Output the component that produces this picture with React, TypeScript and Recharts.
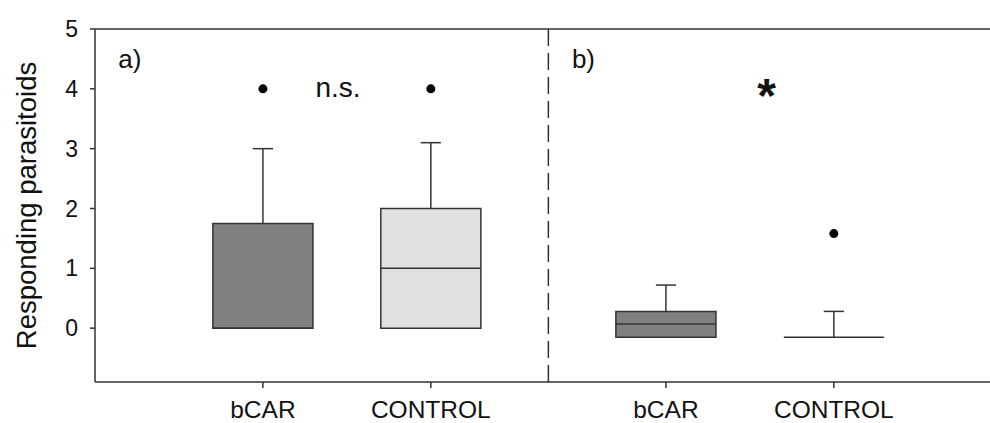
import React from 'react';
import {
  ComposedChart,
  XAxis,
  YAxis,
  Scatter,
  ReferenceArea,
  ReferenceLine,
  ReferenceDot,
} from 'recharts';

// ---- data ----
const categories = ['bCAR', 'CONTROL', 'bCAR', 'CONTROL'];
const positions = [1, 2, 3.4, 4.4];
const lowerQuartile = [0, 0, -0.15, -0.15];
const medians = [0, 1, 0.07, -0.15];
const upperQuartile = [1.75, 2, 0.28, -0.15];
const whiskerTop = [3, 3.1, 0.72, 0.28];
const outlierValues: (number | null)[] = [4, 4, null, 1.58];
const boxFills = ['#808080', '#e0e0e0', '#808080', '#e0e0e0'];
const yTicks = [0, 1, 2, 3, 4, 5];
const panelDivider = 2.7;
const annotationTexts = ['a)', 'n.s.', 'b)', '*'];
const annotationX = [0.208, 1.447, 2.909, 4.0];
const annotationY = [4.5, 4.03, 4.5, 3.89];
const annotationSizes = [26, 28, 26, 48];

const outlierData = positions
  .map((p, i) => (outlierValues[i] != null ? { x: p, y: outlierValues[i] } : null))
  .filter((d) => d !== null) as { x: number; y: number }[];

const FONT = '"Liberation Sans", Arial, sans-serif';
const AXIS = '#333';
const BOX_HALF = 0.298;
const CAP_HALF = 0.06;

const YLabel = (props: any) => {
  const vb = props.viewBox || {};
  const cx = (vb.x ?? 0) + 26;
  const cy = (vb.y ?? 0) + (vb.height ?? 0) / 2;
  return (
    <text
      x={cx}
      y={cy}
      transform={`rotate(-90, ${cx}, ${cy})`}
      textAnchor="middle"
      dominantBaseline="central"
      fontFamily={FONT}
      fontSize={27.5}
      fill="#111"
    >
      Responding parasitoids
    </text>
  );
};

export default function App() {
  return (
    <div style={{ position: 'absolute', left: 0, top: 0, background: '#fff' }}>
      <ComposedChart
        width={990}
        height={423}
        margin={{ top: 29, right: 0, bottom: 0, left: 0 }}
        style={{ fontFamily: FONT }}
      >
        <XAxis
          type="number"
          dataKey="x"
          domain={[0, 5.33]}
          ticks={positions}
          interval={0}
          allowDataOverflow
          tickFormatter={(v: number) => categories[positions.indexOf(v)]}
          height={41}
          tickSize={6}
          tickMargin={13}
          stroke={AXIS}
          strokeWidth={1.5}
          tick={{ fontSize: 24.5, fill: '#111', fontFamily: FONT }}
        />
        <YAxis
          type="number"
          domain={[-0.9, 5]}
          ticks={yTicks}
          interval={0}
          allowDataOverflow
          width={95}
          tickSize={5}
          tickMargin={12}
          stroke={AXIS}
          strokeWidth={1.5}
          tick={{ fontSize: 23, fill: '#111', fontFamily: FONT }}
          label={{ content: YLabel }}
        />
        <ReferenceLine y={5} stroke={AXIS} strokeWidth={1.5} ifOverflow="visible" />
        <ReferenceLine
          x={panelDivider}
          stroke={AXIS}
          strokeWidth={1.5}
          strokeDasharray="17 7"
          ifOverflow="visible"
        />
        {positions.map((p, i) => (
          <ReferenceLine
            key={`wh-${i}`}
            segment={[
              { x: p, y: upperQuartile[i] },
              { x: p, y: whiskerTop[i] },
            ]}
            stroke={AXIS}
            strokeWidth={1.5}
            ifOverflow="visible"
          />
        ))}
        {positions.map((p, i) => (
          <ReferenceLine
            key={`cap-${i}`}
            segment={[
              { x: p - CAP_HALF, y: whiskerTop[i] },
              { x: p + CAP_HALF, y: whiskerTop[i] },
            ]}
            stroke={AXIS}
            strokeWidth={1.5}
            ifOverflow="visible"
          />
        ))}
        {positions.map((p, i) => (
          <ReferenceArea
            key={`box-${i}`}
            x1={p - BOX_HALF}
            x2={p + BOX_HALF}
            y1={lowerQuartile[i]}
            y2={upperQuartile[i]}
            fill={boxFills[i]}
            fillOpacity={1}
            stroke={AXIS}
            strokeWidth={1.5}
            ifOverflow="visible"
          />
        ))}
        {positions.map((p, i) => (
          <ReferenceLine
            key={`med-${i}`}
            segment={[
              { x: p - BOX_HALF, y: medians[i] },
              { x: p + BOX_HALF, y: medians[i] },
            ]}
            stroke={AXIS}
            strokeWidth={1.5}
            ifOverflow="visible"
          />
        ))}
        <Scatter
          data={outlierData}
          dataKey="y"
          isAnimationActive={false}
          shape={(props: any) => <circle cx={props.cx} cy={props.cy} r={4.5} fill="#000" />}
        />
        {annotationTexts.map((t, i) => (
          <ReferenceDot
            key={`ann-${i}`}
            x={annotationX[i]}
            y={annotationY[i]}
            r={0}
            fill="none"
            stroke="none"
            ifOverflow="visible"
            label={{
              value: t,
              position: 'center',
              fontSize: annotationSizes[i],
              fill: '#111',
              fontFamily: FONT,
              fontWeight: t === '*' ? 'bold' : 'normal',
            }}
          />
        ))}
      </ComposedChart>
    </div>
  );
}
